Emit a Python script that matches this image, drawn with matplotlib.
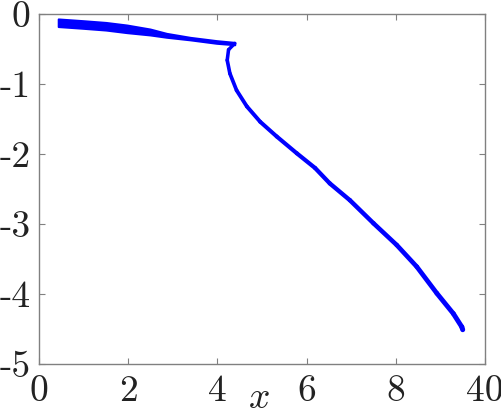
import matplotlib
matplotlib.use("Agg")
import matplotlib.pyplot as plt
import numpy as np
from matplotlib.collections import LineCollection

# Upper band (two-valued region on the left)
band_x = [0.43, 0.99, 1.5, 1.97, 2.49, 2.86, 3.39, 3.98, 4.39]
band_upper = [-0.07, -0.095, -0.12, -0.157, -0.214, -0.276, -0.333, -0.38, -0.405]
band_lower = [-0.18, -0.205, -0.23, -0.267, -0.30, -0.333, -0.37, -0.419, -0.44]

# Lower branch after the cusp
branch_x = [4.39, 4.25, 4.22, 4.28, 4.43, 4.66, 4.96, 5.33, 5.78, 6.19,
            6.52, 6.97, 7.50, 8.02, 8.47, 8.92, 9.29, 9.48, 9.50]
branch_y = [-0.42, -0.51, -0.66, -0.85, -1.09, -1.32, -1.54, -1.75, -1.99, -2.20,
            -2.42, -2.66, -2.99, -3.30, -3.61, -3.99, -4.28, -4.47, -4.51]

xticks = [0, 2, 4, 6, 8, 10]
xticklabels = ["0", "2", "4", "6", "8", "40"]
yticks = [0, -1, -2, -3, -4, -5]
yticklabels = ["0", "-1", "-2", "-3", "-4", "-5"]

plt.rcParams['font.family'] = ['cmr10', 'DejaVu Serif']
plt.rcParams['mathtext.fontset'] = 'cm'

fig = plt.figure(figsize=(5.02, 4.15), dpi=100)
ax = fig.add_axes([39/502, (415-364)/415, 446/502, 350/415])

blue = (0, 0, 1)
ax.fill_between(band_x, band_upper, band_lower, color=blue, lw=1.4, edgecolor=blue)

pts = np.column_stack([branch_x, branch_y])
segs = np.stack([pts[:-1], pts[1:]], axis=1)
widths = np.linspace(2.5, 3.6, len(segs))
lc = LineCollection(segs, colors=[blue], linewidths=widths, capstyle='round', joinstyle='round')
ax.add_collection(lc)

ax.set_xlim(0, 10)
ax.set_ylim(-5, 0)
ax.set_xticks(xticks)
ax.set_xticklabels(xticklabels)
ax.set_yticks(yticks)
ax.set_yticklabels(yticklabels)

for s in ax.spines.values():
    s.set_color('#808080')
    s.set_linewidth(1.0)
ax.tick_params(direction='in', length=4, width=0.8, color='#808080',
               labelsize=27, labelcolor='#222222', pad=6,
               top=True, right=True)
ax.tick_params(axis='x', pad=8)

fig.text(259/502, 0.018, '$x$', ha='center', va='baseline', fontsize=27, color='#222222')

fig.savefig('out.png', dpi=100)
